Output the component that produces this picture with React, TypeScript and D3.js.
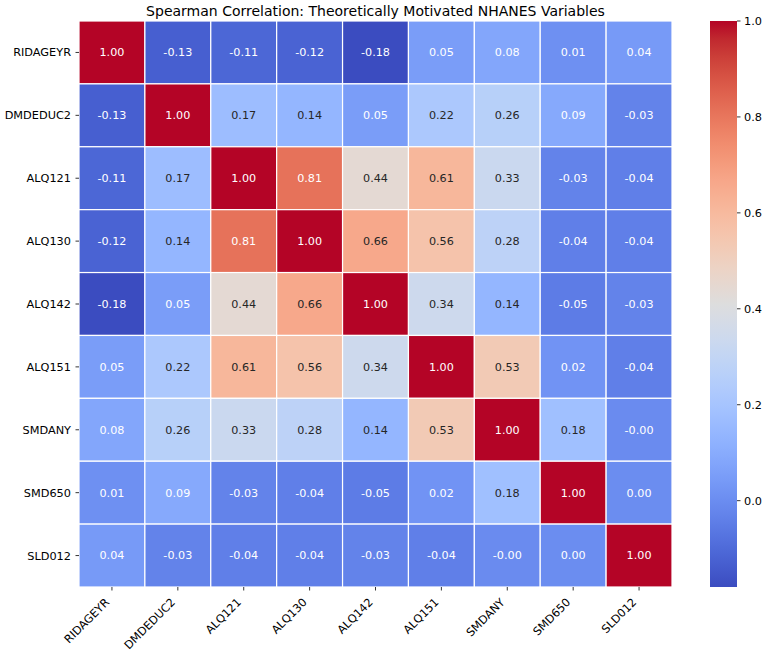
import React from 'react';
import * as d3 from 'd3';

const variables = ['RIDAGEYR', 'DMDEDUC2', 'ALQ121', 'ALQ130', 'ALQ142', 'ALQ151', 'SMDANY', 'SMD650', 'SLD012'];

// correlation rows, in the same order as variables
const rowRIDAGEYR = [1.0, -0.13, -0.11, -0.12, -0.18, 0.05, 0.08, 0.01, 0.04];
const rowDMDEDUC2 = [-0.13, 1.0, 0.17, 0.14, 0.05, 0.22, 0.26, 0.09, -0.03];
const rowALQ121 = [-0.11, 0.17, 1.0, 0.81, 0.44, 0.61, 0.33, -0.03, -0.04];
const rowALQ130 = [-0.12, 0.14, 0.81, 1.0, 0.66, 0.56, 0.28, -0.04, -0.04];
const rowALQ142 = [-0.18, 0.05, 0.44, 0.66, 1.0, 0.34, 0.14, -0.05, -0.03];
const rowALQ151 = [0.05, 0.22, 0.61, 0.56, 0.34, 1.0, 0.53, 0.02, -0.04];
const rowSMDANY = [0.08, 0.26, 0.33, 0.28, 0.14, 0.53, 1.0, 0.18, -0.004];
const rowSMD650 = [0.01, 0.09, -0.03, -0.04, -0.05, 0.02, 0.18, 1.0, 0.0];
const rowSLD012 = [0.04, -0.03, -0.04, -0.04, -0.03, -0.04, -0.004, 0.0, 1.0];

const matrix = [rowRIDAGEYR, rowDMDEDUC2, rowALQ121, rowALQ130, rowALQ142, rowALQ151, rowSMDANY, rowSMD650, rowSLD012];

const colorbarTicks = [0.0, 0.2, 0.4, 0.6, 0.8, 1.0];

const title = 'Spearman Correlation: Theoretically Motivated NHANES Variables';

// matplotlib coolwarm (Moreland) control points
const coolwarm = [
  [59, 76, 192], [68, 90, 204], [77, 104, 215], [87, 117, 225], [98, 130, 234],
  [108, 142, 241], [119, 154, 247], [130, 165, 251], [141, 176, 254], [152, 185, 255],
  [163, 194, 255], [174, 201, 253], [184, 208, 249], [194, 213, 244], [204, 217, 238],
  [213, 219, 230], [221, 221, 221], [229, 216, 209], [236, 211, 197], [241, 204, 184],
  [245, 196, 172], [247, 187, 160], [247, 177, 148], [247, 166, 137], [244, 154, 123],
  [241, 141, 111], [236, 127, 99], [229, 112, 88], [222, 96, 77], [213, 80, 66],
  [203, 62, 56], [192, 40, 47], [180, 4, 38],
].map(([r, g, b]) => `rgb(${r},${g},${b})`);

const interp = d3.piecewise(d3.interpolateRgb, coolwarm);

const width = 767;
const height = 654;
const left = 79;
const right = 672;
const top = 21;
const bottom = 587;
const cbX = 710;
const cbW = 27;

const font = 'DejaVu Sans, sans-serif';
const tickSize = 11.3;

function luminance(c: string) {
  const rgb = d3.rgb(c);
  const lin = (v: number) => {
    const s = v / 255;
    return s <= 0.03928 ? s / 12.92 : Math.pow((s + 0.055) / 1.055, 2.4);
  };
  return 0.2126 * lin(rgb.r) + 0.7152 * lin(rgb.g) + 0.0722 * lin(rgb.b);
}

export default function App() {
  const all = matrix.flat();
  const vmin = d3.min(all) as number;
  const vmax = d3.max(all) as number;

  const color = (v: number) => interp((v - vmin) / (vmax - vmin));

  const x = d3.scaleBand().domain(variables).range([left, right]);
  const y = d3.scaleBand().domain(variables).range([top, bottom]);
  const cb = d3.scaleLinear().domain([vmin, vmax]).range([bottom, top]);

  const stops = d3.range(0, 1.0001, 1 / 32);

  return (
    <svg width={width} height={height} style={{ position: 'absolute', left: 0, top: 0 }} fontFamily={font}>
      <rect width={width} height={height} fill="#fff" />
      <text x={(left + right) / 2} y={15.5} textAnchor="middle" fontSize={14} fill="#000">{title}</text>

      {matrix.map((row, i) =>
        row.map((v, j) => {
          const fill = color(v);
          return (
            <g key={`${i}-${j}`}>
              <rect
                x={x(variables[j])}
                y={y(variables[i])}
                width={x.bandwidth()}
                height={y.bandwidth()}
                fill={fill}
                stroke="#fff"
                strokeWidth={1.2}
              />
              <text
                x={(x(variables[j]) as number) + x.bandwidth() / 2}
                y={(y(variables[i]) as number) + y.bandwidth() / 2}
                dy="0.35em"
                textAnchor="middle"
                fontSize={11.2}
                fill={luminance(fill) > 0.408 ? '#262626' : '#fff'}
              >
                {v.toFixed(2)}
              </text>
            </g>
          );
        })
      )}

      {variables.map((name) => {
        const cy = (y(name) as number) + y.bandwidth() / 2;
        return (
          <g key={`y-${name}`}>
            <line x1={left - 3.5} x2={left} y1={cy} y2={cy} stroke="#000" strokeWidth={0.8} />
            <text x={left - 8} y={cy} dy="0.35em" textAnchor="end" fontSize={tickSize} fill="#000">{name}</text>
          </g>
        );
      })}

      {variables.map((name) => {
        const cx = (x(name) as number) + x.bandwidth() / 2;
        return (
          <g key={`x-${name}`}>
            <line x1={cx} x2={cx} y1={bottom} y2={bottom + 3.5} stroke="#000" strokeWidth={0.8} />
            <text
              transform={`translate(${cx - 2},${bottom + 16}) rotate(-45)`}
              textAnchor="end"
              fontSize={tickSize}
              fill="#000"
            >
              {name}
            </text>
          </g>
        );
      })}

      <defs>
        <linearGradient id="cbgrad" x1="0" y1="1" x2="0" y2="0">
          {stops.map((t) => (
            <stop key={t} offset={t} stopColor={interp(t)} />
          ))}
        </linearGradient>
      </defs>
      <rect x={cbX} y={top} width={cbW} height={bottom - top} fill="url(#cbgrad)" />
      {colorbarTicks.map((t) => (
        <g key={`cb-${t}`}>
          <line x1={cbX + cbW} x2={cbX + cbW + 3.5} y1={cb(t)} y2={cb(t)} stroke="#000" strokeWidth={0.8} />
          <text x={cbX + cbW + 7} y={cb(t)} dy="0.35em" fontSize={tickSize} fill="#000">{t.toFixed(1)}</text>
        </g>
      ))}
    </svg>
  );
}
